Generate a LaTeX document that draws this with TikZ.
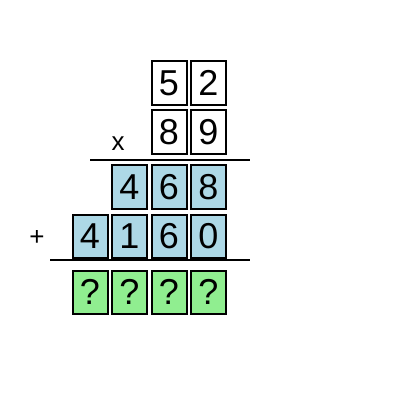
\documentclass[tikz,border=0pt]{standalone}
\usepackage{fontspec}
\setmainfont{Liberation Sans}
\definecolor{lblue}{HTML}{ADD8E6}
\definecolor{lgreen}{HTML}{90EE90}
\begin{document}
\begin{tikzpicture}[x=1pt,y=-1pt,
  digit/.style={draw=black,line width=2pt,minimum width=35pt,minimum height=43.5pt,inner sep=0pt,font=\fontsize{36}{36}\selectfont,anchor=center},
  plain/.style={digit,fill=white},
  blue/.style={digit,fill=lblue},
  green/.style={digit,fill=lgreen},
  rule/.style={line width=2pt},
  sign/.style={font=\fontsize{26}{26}\selectfont,inner sep=0pt}]
\useasboundingbox (0,0) rectangle (400,400);
% row 1
\node[plain] (a1) at (169,82.9) {5};
\node[plain] (a2) at (208.5,82.9) {2};
% row 2
\node[plain] (b1) at (169,132) {8};
\node[plain] (b2) at (208.5,132) {9};
\node[sign,anchor=center] (times) at (118,144) {x};
\coordinate (l1s) at (90,159.5);
\coordinate (l1e) at (250,159.5);
\draw[rule] (l1s) -- (l1e);
% row 3
\node[blue] (c1) at (129.5,187) {4};
\node[blue] (c2) at (169,187) {6};
\node[blue] (c3) at (208.5,187) {8};
% row 4
\node[blue] (d1) at (90,236.5) {4};
\node[blue] (d2) at (129.5,236.5) {1};
\node[blue] (d3) at (169,236.5) {6};
\node[blue] (d4) at (208.5,236.5) {0};
\node[sign] (plus) at (37,238) {+};
\coordinate (l2s) at (50,260);
\coordinate (l2e) at (250,260);
\draw[rule] (l2s) -- (l2e);
% row 5
\node[green] (e1) at (90,292.3) {?};
\node[green] (e2) at (129.5,292.3) {?};
\node[green] (e3) at (169,292.3) {?};
\node[green] (e4) at (208.5,292.3) {?};
\end{tikzpicture}
\end{document}
